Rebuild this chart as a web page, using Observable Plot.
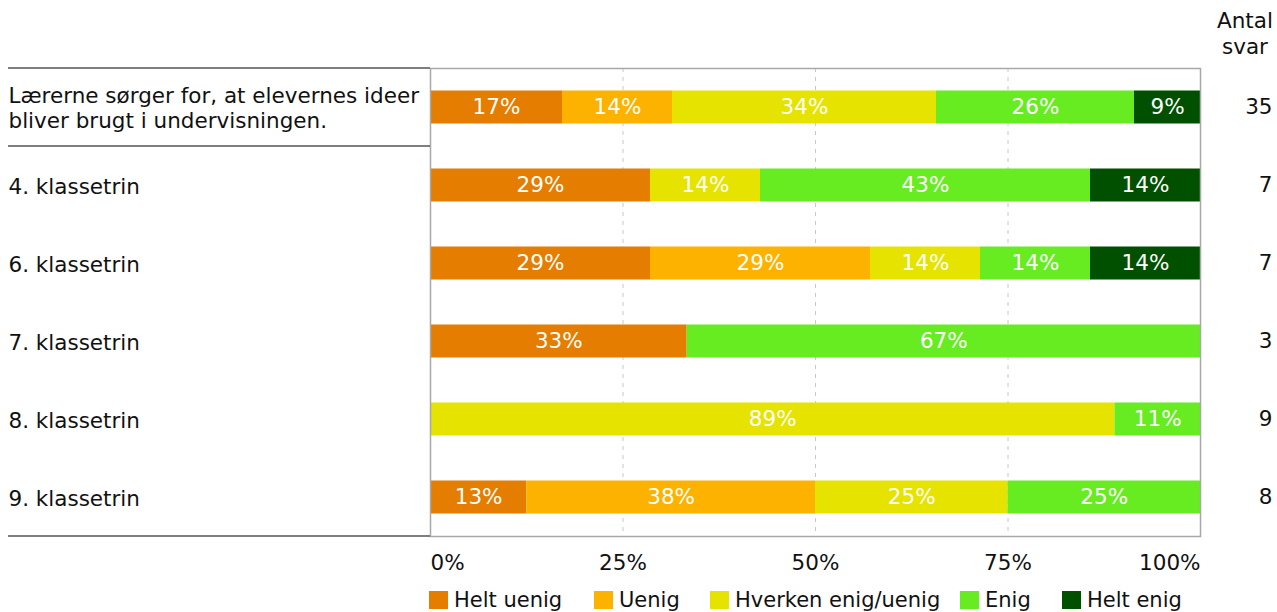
<!DOCTYPE html>
<html>
<head>
<meta charset="utf-8">
<script src="https://cdn.jsdelivr.net/npm/d3@7"></script>
<script src="https://cdn.jsdelivr.net/npm/@observablehq/plot@0.6"></script>
<style>
  body { margin: 0; background: #fff; font-family: "DejaVu Sans", Verdana, sans-serif; }
  #wrap { position: relative; width: 1277px; height: 612px; }
  #header { position: absolute; left: 1205px; width: 80px; top: 8px; text-align: center; font-size: 21.5px; line-height: 26px; color: #111; }
  #legend { position: absolute; left: 0; top: 588px; width: 1277px; height: 24px; font-size: 21px; color: #111; white-space: nowrap; }
  .item { position: absolute; top: 0; display: flex; align-items: center; height: 24px; }
  .sw { width: 19px; height: 18px; margin-right: 6px; }
</style>
</head>
<body>
<div id="wrap">
  <div id="chart"></div>
  <div id="header">Antal<br>svar</div>
  <div id="legend"></div>
</div>
<script>
const rows = [
  "Lærerne sørger for, at elevernes ideer\nbliver brugt i undervisningen.",
  "4. klassetrin",
  "6. klassetrin",
  "7. klassetrin",
  "8. klassetrin",
  "9. klassetrin"
];
const categories = ["Helt uenig", "Uenig", "Hverken enig/uenig", "Enig", "Helt enig"];
const colors = ["#e47d00", "#fdb200", "#e6e300", "#66ec20", "#005000"];
// answer counts per category, one entry per row
const heltUenig = [6, 2, 2, 1, 0, 1];
const uenig     = [5, 0, 2, 0, 0, 3];
const hverken   = [12, 1, 1, 0, 8, 2];
const enig      = [9, 3, 1, 2, 1, 2];
const heltEnig  = [3, 1, 1, 0, 0, 0];
const antalSvar = [35, 7, 7, 3, 9, 8];
const tickValues = [0, 25, 50, 75, 100];
const tickLabels = ["0%", "25%", "50%", "75%", "100%"];

const series = [heltUenig, uenig, hverken, enig, heltEnig];
const data = [];
rows.forEach((r, i) => {
  categories.forEach((c, j) => {
    const n = series[j][i];
    if (n > 0) data.push({row: r, cat: c, pct: n / antalSvar[i] * 100});
  });
});
const counts = rows.map((r, i) => ({row: r, n: antalSvar[i]}));
const ticks = tickValues.map((v, i) => ({v, label: tickLabels[i]}));

const dividers = (index, scales, values, dimensions) => {
  const y = scales.y;
  const bw = y.bandwidth ? y.bandwidth() : (dimensions.height - dimensions.marginTop - dimensions.marginBottom) / rows.length;
  const g = d3.create("svg:g").attr("stroke", "#555").attr("stroke-width", 1.5);
  const x1 = 8, x2 = dimensions.marginLeft;
  const ys = [y(rows[0]), y(rows[0]) + bw, y(rows[rows.length - 1]) + bw];
  ys.forEach(v => g.append("line").attr("x1", x1).attr("x2", x2).attr("y1", v).attr("y2", v));
  return g.node();
};

const plot = Plot.plot({
  width: 1277,
  height: 580,
  marginLeft: 430,
  marginRight: 77,
  marginTop: 68,
  marginBottom: 44,
  style: {fontFamily: "DejaVu Sans, Verdana, sans-serif", fontSize: "21.5px", color: "#111", background: "#fff"},
  x: {domain: [0, 100], axis: null},
  y: {domain: rows, axis: null, padding: 0},
  color: {domain: categories, range: colors},
  marks: [
    Plot.ruleX([25, 50, 75], {stroke: "#c8c8c8", strokeDasharray: "4,5"}),
    Plot.barX(data, Plot.stackX({x: "pct", y: "row", fill: "cat", order: categories, insetTop: 22.5, insetBottom: 22.5})),
    Plot.text(data, Plot.stackX({x: "pct", y: "row", z: "cat", order: categories, text: d => Math.round(d.pct) + "%", fill: "white"})),
    Plot.frame({stroke: "#a8a8a8", strokeWidth: 1.5}),
    dividers,
    Plot.text(rows, {x: 0, y: d => d, text: d => d, dx: -422, textAnchor: "start", lineHeight: 1.17, fill: "#111"}),
    Plot.text(counts, {x: 100, y: "row", text: "n", dx: 72, textAnchor: "end", fill: "#111"}),
    Plot.text(ticks.slice(0, 1), {x: "v", text: "label", frameAnchor: "bottom", dy: 33, textAnchor: "start", fill: "#111"}),
    Plot.text(ticks.slice(1, -1), {x: "v", text: "label", frameAnchor: "bottom", dy: 33, textAnchor: "middle", fill: "#111"}),
    Plot.text(ticks.slice(-1), {x: "v", text: "label", frameAnchor: "bottom", dy: 33, textAnchor: "end", fill: "#111"})
  ]
});
document.getElementById("chart").append(plot);

// legend item placement (layout only)
const legendLeft = [429, 594, 710, 960, 1062];
const legend = d3.select("#legend");
categories.forEach((c, i) => {
  const it = legend.append("div").attr("class", "item").style("left", legendLeft[i] + "px");
  it.append("div").attr("class", "sw").style("background", colors[i]);
  it.append("span").text(c);
});
</script>
</body>
</html>
